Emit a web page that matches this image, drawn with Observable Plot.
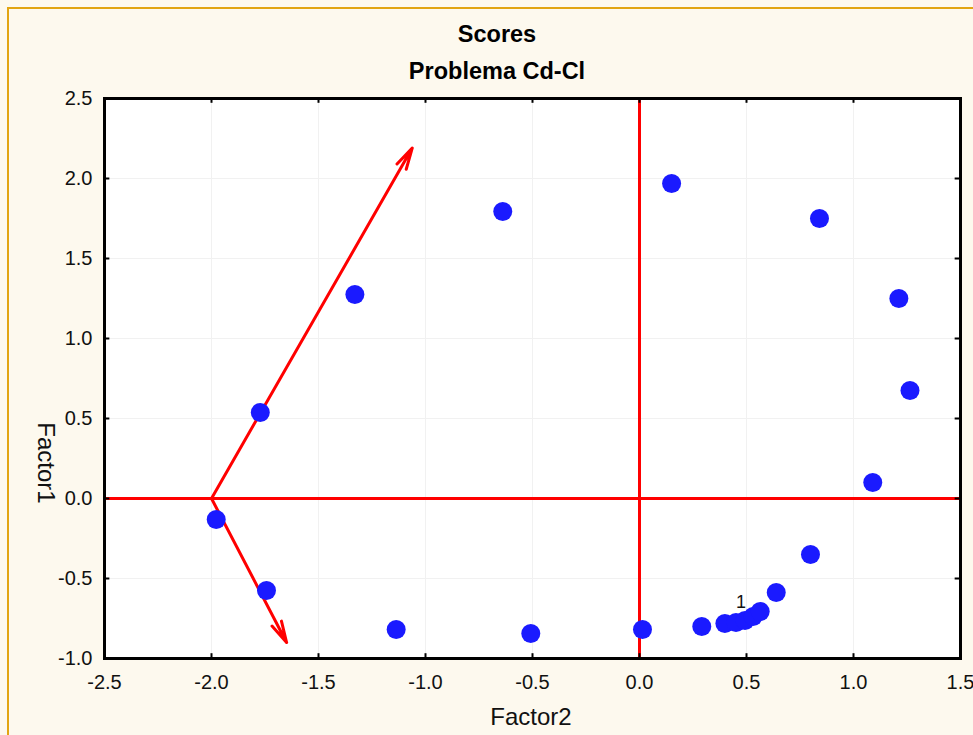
<!DOCTYPE html>
<html>
<head>
<meta charset="utf-8">
<script src="https://cdn.jsdelivr.net/npm/d3@7"></script>
<script src="https://cdn.jsdelivr.net/npm/@observablehq/plot@0.6"></script>
<style>
  html, body { margin: 0; padding: 0; background: #fdf9ee; }
  #wrap { position: relative; width: 973px; height: 735px; overflow: hidden; font-family: "Liberation Sans", Arial, sans-serif; }
  #border { position: absolute; left: 7px; top: 7px; width: 980px; height: 740px; border-top: 2px solid #e2a512; border-left: 2px solid #e2a512; }
  .title { position: absolute; left: 0; width: 994px; text-align: center; font-weight: bold; font-size: 23.5px; color: #000; line-height: 28px; }
  #xlab { position: absolute; left: 331px; width: 400px; top: 703px; text-align: center; font-size: 24px; line-height: 28px; color: #111; }
  #ylab { position: absolute; left: 46px; top: 463px; font-size: 24px; line-height: 28px; color: #111; transform: translate(-50%, -50%) rotate(90deg); white-space: nowrap; }
  #chart { position: absolute; left: 0; top: 0; }
</style>
</head>
<body>
<div id="wrap">
  <div id="border"></div>
  <div id="chart"></div>
  <div class="title" style="top:20px">Scores</div>
  <div class="title" style="top:57px">Problema Cd-Cl</div>
  <div id="xlab">Factor2</div>
  <div id="ylab">Factor1</div>
</div>
<script>
// Scores (Factor2 = x, Factor1 = y)
const factor2 = [0.150, -0.639, 0.841, -1.330, 1.212, 1.264, -1.772, 1.090, -1.978, 0.799, -1.743, 0.639, -1.137, -0.508, 0.014, 0.291, 0.399, 0.451, 0.493, 0.531, 0.564];
const factor1 = [1.969, 1.794, 1.750, 1.275, 1.250, 0.675, 0.538, 0.100, -0.131, -0.350, -0.575, -0.588, -0.819, -0.844, -0.819, -0.800, -0.781, -0.775, -0.763, -0.738, -0.706];
const pointLabels = ["", "", "", "", "", "", "", "", "", "", "", "", "", "", "", "", "", "1", "", "", ""];

// Loading vectors (arrows)
const arrowStartX = [-2.0, -2.0];
const arrowStartY = [0.0, 0.0];
const arrowEndX = [-1.062, -1.649];
const arrowEndY = [2.19, -0.90];

const xTicks = [-2.5, -2.0, -1.5, -1.0, -0.5, 0.0, 0.5, 1.0, 1.5];
const yTicks = [-1.0, -0.5, 0.0, 0.5, 1.0, 1.5, 2.0, 2.5];
const xDomain = [-2.5, 1.5];
const yDomain = [-1.0, 2.5];

const points = factor2.map((x, i) => ({x, y: factor1[i], label: pointLabels[i]}));
const arrows = arrowStartX.map((x1, i) => ({x1, y1: arrowStartY[i], x2: arrowEndX[i], y2: arrowEndY[i]}));
const fmt = d => d.toFixed(1);
const tickLen = 0.03;
const tickLenX = 0.025;

const chart = Plot.plot({
  width: 973,
  height: 735,
  marginLeft: 104,
  marginRight: 13,
  marginTop: 98,
  marginBottom: 77,
  style: {fontFamily: "Liberation Sans, Arial, sans-serif", background: "transparent", color: "#111"},
  x: {domain: xDomain, ticks: xTicks},
  y: {domain: yDomain, ticks: yTicks},
  marks: [
    Plot.frame({fill: "white", stroke: "none"}),
    Plot.gridX(xTicks, {stroke: "#f1f1f1", strokeOpacity: 1, strokeWidth: 1}),
    Plot.gridY(yTicks, {stroke: "#f1f1f1", strokeOpacity: 1, strokeWidth: 1}),
    Plot.axisX(xTicks, {tickSize: 0, tickPadding: 16, fontSize: 20, tickFormat: fmt, label: null}),
    Plot.axisY(yTicks, {tickSize: 0, tickPadding: 12, fontSize: 20, tickFormat: fmt, label: null}),
    Plot.ruleY([0], {stroke: "#f00", strokeWidth: 3}),
    Plot.ruleX([0], {stroke: "#f00", strokeWidth: 3}),
    Plot.arrow(arrows, {x1: "x1", y1: "y1", x2: "x2", y2: "y2", stroke: "#f00", strokeWidth: 3, headLength: 11, headAngle: 28}),
    Plot.dot(points, {x: "x", y: "y", r: 9.5, fill: "#1a1aff", stroke: "none"}),
    Plot.text(points.filter(d => d.label), {x: "x", y: "y", text: "label", dx: 5, dy: -20, fontSize: 18, fill: "#111"}),
    // inward tick marks on all four sides
    Plot.ruleX(xTicks, {x: d => d, y1: yDomain[0], y2: yDomain[0] + tickLen, stroke: "black", strokeWidth: 2}),
    Plot.ruleX(xTicks, {x: d => d, y1: yDomain[1], y2: yDomain[1] - tickLen, stroke: "black", strokeWidth: 2}),
    Plot.ruleY(yTicks, {y: d => d, x1: xDomain[0], x2: xDomain[0] + tickLenX, stroke: "black", strokeWidth: 2}),
    Plot.ruleY(yTicks, {y: d => d, x1: xDomain[1], x2: xDomain[1] - tickLenX, stroke: "black", strokeWidth: 2}),
    Plot.frame({stroke: "black", strokeWidth: 3})
  ]
});
document.getElementById("chart").appendChild(chart);
</script>
</body>
</html>
